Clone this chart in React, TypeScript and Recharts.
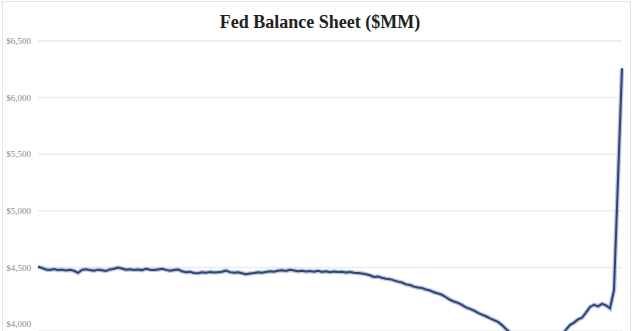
import { LineChart, Line, XAxis, YAxis, CartesianGrid } from "recharts"

// biweekly readings, late 2014 -> April 2020 ($MM, in billions shown)
const balance = [
  4505, 4495, 4482, 4478, 4485, 4476, 4480, 4472, 4478, 4470,
  4452, 4478, 4484, 4476, 4470, 4480, 4474, 4468, 4482, 4488,
  4498, 4490, 4480, 4484, 4478, 4482, 4476, 4488, 4480, 4476,
  4482, 4488, 4478, 4470, 4476, 4482, 4466, 4458, 4462, 4450,
  4448, 4456, 4452, 4460, 4454, 4458, 4462, 4472, 4458, 4452,
  4456, 4448, 4440, 4446, 4450, 4456, 4452, 4460, 4466, 4462,
  4470, 4474, 4468, 4478, 4472, 4466, 4470, 4464, 4468, 4462,
  4470, 4460, 4466, 4458, 4464, 4460, 4462, 4454, 4460, 4452,
  4450, 4446, 4440, 4430, 4416, 4420, 4408, 4400, 4396, 4385,
  4374, 4366, 4350, 4344, 4330, 4322, 4318, 4304, 4296, 4280,
  4270, 4258, 4236, 4214, 4198, 4186, 4168, 4146, 4134, 4118,
  4098, 4082, 4068, 4050, 4034, 4018, 3990, 3955, 3925, 3900,
  3875, 3850, 3828, 3810, 3792, 3778, 3766, 3760, 3770, 3800,
  3840, 3900, 3950, 3990, 4012, 4040, 4055, 4100, 4150, 4170,
  4155, 4178, 4164, 4138, 4300, 5280, 6258,
]

const yTicks = [4000, 4500, 5000, 5500, 6000, 6500]

const data = balance.map((value, i) => ({ i, value }))

const fmt = (v: number) => "$" + v.toLocaleString("en-US")

export default function App() {
  return (
    <div style={{ position: "absolute", top: 0, left: 0, width: 640, height: 331, overflow: "hidden", background: "#fff" }}>
      <div
        style={{
          position: "absolute", left: 2, top: 1, width: 629, height: 360,
          border: "1px solid #e4e4e4", boxSizing: "border-box",
        }}
      />
      <div
        style={{
          position: "absolute", top: 12, left: 0, width: 640, textAlign: "center",
          fontFamily: "'Liberation Serif', serif", fontWeight: "bold", fontSize: 18, color: "#222",
        }}
      >
        Fed Balance Sheet ($MM)
      </div>
      <LineChart width={640} height={331} data={data} margin={{ top: 41, right: 18, bottom: 0, left: 0 }}>
        <CartesianGrid vertical={false} stroke="#ebebeb" strokeWidth={1.5} />
        <XAxis dataKey="i" type="number" domain={[0, balance.length - 1]} hide />
        <YAxis
          domain={[3938, 6500]}
          ticks={yTicks}
          allowDataOverflow
          width={38}
          tickSize={5}
          tickLine={false}
          axisLine={false}
          tickFormatter={fmt}
          tick={{ fontSize: 9, fill: "#8a8a8a", fontFamily: "'Liberation Serif', serif" }}
        />
        <Line
          dataKey="value"
          stroke="#b9c6e0"
          strokeWidth={4.5}
          dot={false}
          isAnimationActive={false}
        />
        <Line
          dataKey="value"
          stroke="#2c4576"
          strokeWidth={2}
          dot={false}
          isAnimationActive={false}
        />
      </LineChart>
    </div>
  )
}
